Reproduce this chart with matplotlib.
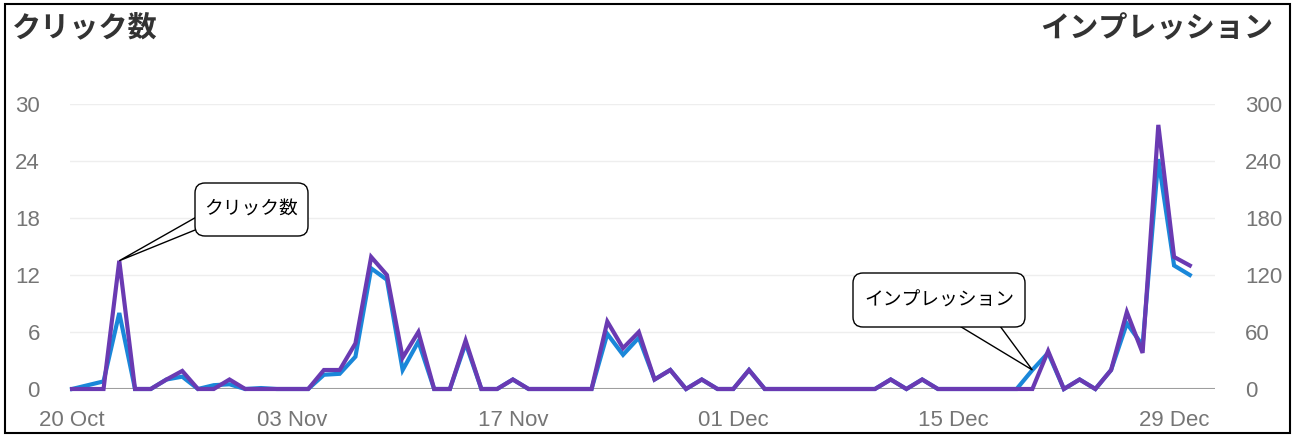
#!/usr/bin/env python
import numpy as np
import matplotlib
matplotlib.use("Agg")
import matplotlib.pyplot as plt
import matplotlib.dates as mdates
from matplotlib.patches import Polygon, FancyBboxPatch, Rectangle
from matplotlib.transforms import IdentityTransform

W, H = 1297, 438

# daily values, 20 Oct .. 30 Dec
dates = np.arange("2023-10-20", "2023-12-31", dtype="datetime64[D]")
clicks = [0, 0.4, 0.8, 8, 0, 0, 1, 1.3, 0, 0.4,
          0.5, 0, 0.1, 0, 0, 0, 1.5, 1.6, 3.4, 12.7,
          11.5, 2, 5, 0, 0, 4.8, 0, 0, 1, 0,
          0, 0, 0, 0, 5.8, 3.6, 5.4, 1, 2, 0,
          1, 0, 0, 2, 0, 0, 0, 0, 0, 0,
          0, 0, 1, 0, 1, 0, 0, 0, 0, 0,
          0, 2, 3.8, 0, 1, 0, 2, 6.9, 4.6, 24.2,
          13, 12]
impressions = [0, 0, 0, 135, 0, 0, 10, 19, 0, 0,
               10, 0, 0, 0, 0, 0, 20, 20, 48, 139,
               120, 33, 60, 0, 0, 51, 0, 0, 10, 0,
               0, 0, 0, 0, 71, 43, 60, 10, 20, 0,
               10, 0, 0, 20, 0, 0, 0, 0, 0, 0,
               0, 0, 10, 0, 10, 0, 0, 0, 0, 0,
               0, 0, 40, 0, 10, 0, 20, 81, 38, 278,
               139, 130]
left_ticks = [0, 6, 12, 18, 24, 30]
right_ticks = [0, 60, 120, 180, 240, 300]

BLUE = "#1a87d9"
PURPLE = "#6a3ab2"
GRAY = "#757575"
CJK = ["Noto Sans CJK JP", "DejaVu Sans"]


def px(x, y):
    # top-left pixel position -> display coords
    return (x, H - y)


def callout(fig, text, box, base, tip):
    x0, y0, x1, y1 = box
    poly = Polygon([px(*base[0]), px(*base[1]), tip], closed=True,
                   fc="white", ec="black", lw=1, transform=IdentityTransform(), zorder=4)
    fig.add_artist(poly)
    bx, by = px(x0, y1)
    patch = FancyBboxPatch((bx, by), x1 - x0, y1 - y0,
                           boxstyle="round,pad=0,rounding_size=10",
                           fc="white", ec="black", lw=1, transform=IdentityTransform(), zorder=5)
    fig.add_artist(patch)
    cx, cy = px((x0 + x1) / 2, (y0 + y1) / 2)
    fig.text(cx / W, cy / H, text, ha="center", va="center", fontsize=13.5,
             family=CJK, color="black", zorder=6)


def main():
    plt.rcParams["font.family"] = ["Liberation Sans", "Noto Sans CJK JP"]
    fig = plt.figure(figsize=(W / 100, H / 100), dpi=100)
    ax = fig.add_axes([70 / W, 1 - 389 / H, (1215 - 70) / W, (389 - 104) / H])
    ax2 = ax.twinx()

    x = mdates.date2num(dates)
    ax.plot(x, clicks, color=BLUE, lw=3, solid_joinstyle="miter", clip_on=False, zorder=3)
    ax2.plot(x, impressions, color=PURPLE, lw=3, solid_joinstyle="miter", clip_on=False, zorder=3)

    ax.set_xlim(x[0] - 0.13, x[0] + 72.6)
    ax.set_ylim(0, 30)
    ax2.set_ylim(0, 300)
    ax.set_yticks(left_ticks)
    ax2.set_yticks(right_ticks)
    ax.set_xticks(x[::14])
    ax.xaxis.set_major_formatter(mdates.DateFormatter("%d %b"))

    for a in (ax, ax2):
        for s in a.spines.values():
            s.set_visible(False)
        a.tick_params(length=0, labelsize=16, colors=GRAY)
    ax.tick_params(axis="y", pad=21.6)
    ax2.tick_params(axis="y", pad=21.6)
    ax.tick_params(axis="x", pad=15)

    ax.grid(axis="y", color="#eeeeee", lw=1)
    ax.set_axisbelow(True)
    ax.axhline(0, color="#9e9e9e", lw=1.5, zorder=2)

    fig.text(12 / W, 1 - 27 / H, "クリック数", fontsize=21, fontweight="bold",
             family=CJK, color="#333333", ha="left", va="center")
    fig.text(1273 / W, 1 - 28 / H, "インプレッション", fontsize=21, fontweight="bold",
             family=CJK, color="#333333", ha="right", va="center")

    fig.canvas.draw()
    tip1 = ax2.transData.transform((x[3], impressions[3]))
    callout(fig, "クリック数", (195, 183, 308, 236), [(200, 215), (200, 228)], tip1)
    tip2 = ax.transData.transform((x[61], clicks[61]))
    callout(fig, "インプレッション", (853, 273, 1025, 327), [(953, 322), (997, 322)], tip2)

    fig.add_artist(Rectangle((5 / W, 5 / H), (1290 - 5) / W, (433 - 4) / H,
                             fill=False, ec="black", lw=1.5, transform=fig.transFigure))

    plt.savefig("out.png", dpi=100)


if __name__ == "__main__":
    main()
